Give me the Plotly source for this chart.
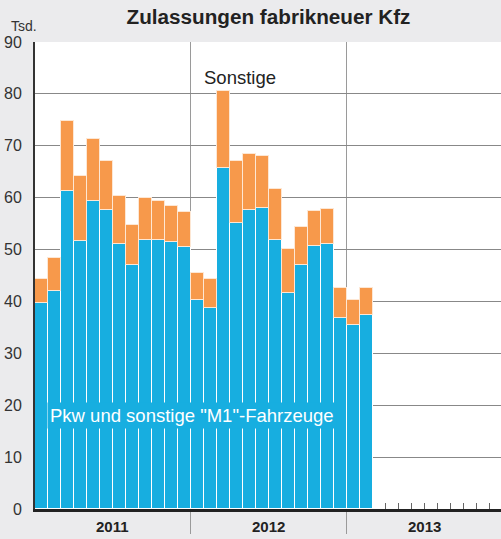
import plotly.graph_objects as go

# Data (thousands), monthly Jan 2011 - Feb 2013
months = ["2011-01", "2011-02", "2011-03", "2011-04", "2011-05", "2011-06",
          "2011-07", "2011-08", "2011-09", "2011-10", "2011-11", "2011-12",
          "2012-01", "2012-02", "2012-03", "2012-04", "2012-05", "2012-06",
          "2012-07", "2012-08", "2012-09", "2012-10", "2012-11", "2012-12",
          "2013-01", "2013-02"]
pkw = [39.7, 42.1, 61.3, 51.7, 59.3, 57.6, 51.1, 47.1, 51.9, 51.8, 51.5, 50.5,
       40.3, 38.8, 65.8, 55.2, 57.6, 58.0, 51.9, 41.7, 47.0, 50.6, 51.0, 36.8,
       35.5, 37.4]
sonstige = [4.6, 6.3, 13.4, 12.5, 12.0, 9.4, 9.2, 7.7, 8.1, 7.6, 6.9, 6.8,
            5.2, 5.5, 14.7, 11.9, 10.8, 10.0, 9.7, 8.4, 7.3, 6.8, 6.8, 5.7,
            4.7, 5.2]
years = ["2011", "2012", "2013"]
y_ticks = [0, 10, 20, 30, 40, 50, 60, 70, 80, 90]

BLUE = "#17aee0"
ORANGE = "#f7994b"
BG = "#ebebed"
FONT = "Liberation Sans, Arial, Helvetica, sans-serif"

x = [i + 0.5 for i in range(len(months))]

fig = go.Figure()
fig.add_trace(go.Bar(x=x, y=pkw, width=1, marker=dict(color=BLUE, line=dict(color="white", width=1)),
                     name="Pkw", hovertext=months))
fig.add_trace(go.Bar(x=x, y=sonstige, width=1, marker=dict(color=ORANGE, line=dict(color="#fde7d4", width=1)),
                     name="Sonstige", hovertext=months))

n_months_total = 12 * len(years)
month_ticks = list(range(len(months) + 1, n_months_total))

fig.update_layout(
    barmode="stack",
    width=501, height=539,
    margin=dict(l=35, r=0, t=42, b=30, autoexpand=False),
    paper_bgcolor=BG, plot_bgcolor="white",
    showlegend=False,
    font=dict(family=FONT, color="#333"),
    title=dict(text="<b>Zulassungen fabrikneuer Kfz</b>", x=(268.5) / 501, xanchor="center",
               y=1 - 17 / 539, yanchor="middle", font=dict(size=20.7, color="#222", family=FONT)),
    xaxis=dict(range=[0, 35.85], tickmode="array", tickvals=month_ticks, ticktext=[""] * len(month_ticks),
               ticks="inside", ticklen=6, tickcolor="#666", tickwidth=1,
               showgrid=False, zeroline=False, automargin=False,
               showline=True, linecolor="#222", linewidth=2.5,
               minor=dict(tickmode="array", tickvals=[12, 24], showgrid=True, gridcolor="#9a9a9a",
                          gridwidth=1.2, ticks="outside", ticklen=22, tickcolor="#9a9a9a", tickwidth=1.2),
               fixedrange=True),
    yaxis=dict(range=[0, 90], tickmode="array", tickvals=y_ticks, ticks="outside", ticklen=8,
               tickcolor="rgba(0,0,0,0)", tickfont=dict(size=16, color="#333"), automargin=False,
               showgrid=True, gridcolor="#888888", gridwidth=1.3, zeroline=False,
               showline=True, linecolor="#333", linewidth=2, fixedrange=True),
    bargap=0,
)

for i, yr in enumerate(years):
    fig.add_annotation(x=12 * i + 6, xref="x", y=-17 / 467, yref="paper", text=f"<b>{yr}</b>",
                       showarrow=False, yanchor="middle", font=dict(size=15, color="#222"))

fig.add_annotation(x=-26 / 466, xref="paper", y=1 + 16 / 467, yref="paper", text="Tsd.",
                   showarrow=False, xanchor="left", yanchor="middle", font=dict(size=14, color="#333"))
fig.add_annotation(x=(240 - 35) / 466, xref="paper", y=(509 - 77) / 467, yref="paper", text="Sonstige",
                   showarrow=False, xanchor="center", yanchor="middle", font=dict(size=18.5, color="#222"))
fig.add_annotation(x=(192 - 35) / 466, xref="paper", y=(509 - 415) / 467, yref="paper",
                   text='Pkw und sonstige "M1"-Fahrzeuge', showarrow=False, xanchor="center", yanchor="middle",
                   bgcolor=BLUE, borderpad=2, font=dict(size=18.5, color="white"))

fig.write_html("out.html", config={"displayModeBar": False},
               post_script="document.body.style.margin='0';")
